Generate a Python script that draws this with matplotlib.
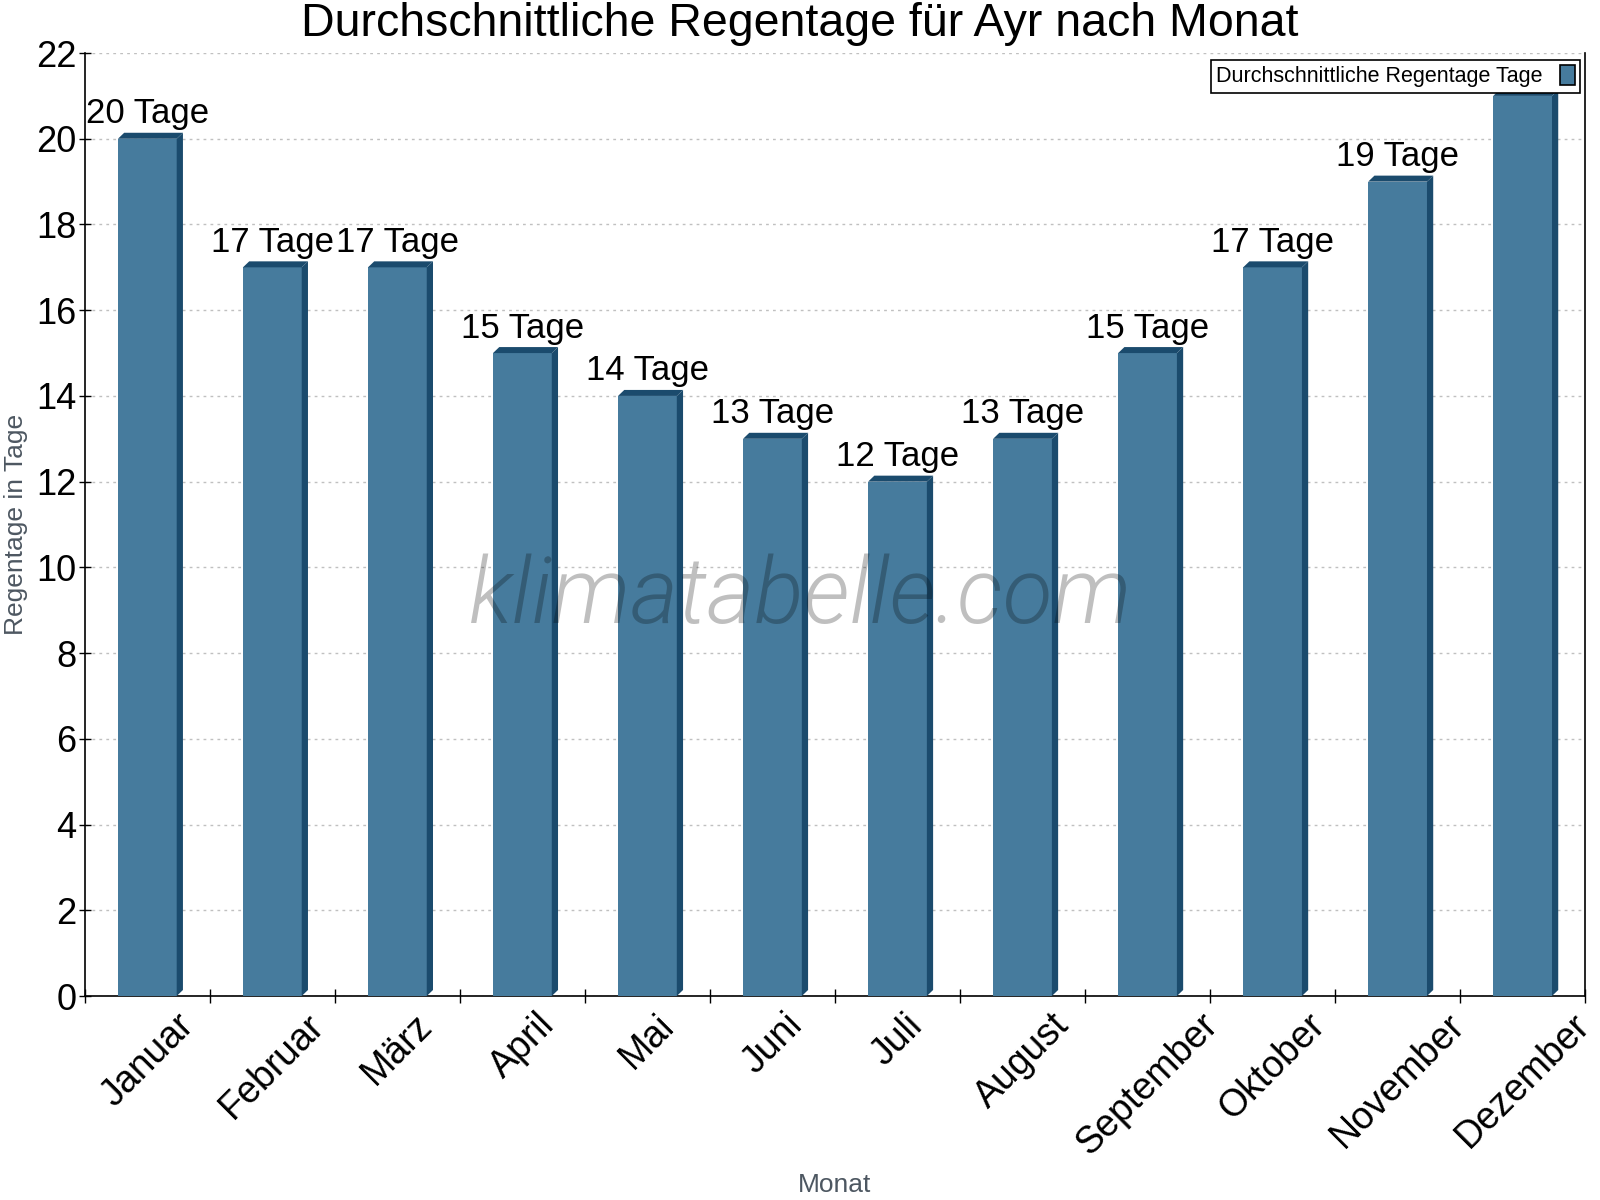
import matplotlib
matplotlib.use('Agg')
import matplotlib.pyplot as plt
from matplotlib.patches import Polygon, Patch

months = ['Januar', 'Februar', 'März', 'April', 'Mai', 'Juni', 'Juli',
          'August', 'September', 'Oktober', 'November', 'Dezember']
rain_days = [20, 17, 17, 15, 14, 13, 12, 13, 15, 17, 19, 21]
bar_labels = ['%d Tage' % v for v in rain_days]

front = '#467b9d'
dark = '#1b4b6d'

plt.rcParams['font.family'] = ['Liberation Sans', 'DejaVu Sans']

fig = plt.figure(figsize=(16, 12), dpi=100)
ax = fig.add_axes([0.053, 0.17, 0.9377, 0.7858])

x = list(range(len(months)))
width = 0.47
dx, dy = 0.05, 0.14

ax.bar(x, rain_days, width, color=front, zorder=3)
for i, v in enumerate(rain_days):
    x0 = i - width / 2
    x1 = i + width / 2
    side = Polygon([(x1, 0), (x1 + dx, dy), (x1 + dx, v + dy), (x1, v)],
                   closed=True, color=dark, zorder=3, lw=0)
    top = Polygon([(x0, v), (x0 + dx, v + dy), (x1 + dx, v + dy), (x1, v)],
                  closed=True, color=dark, zorder=3, lw=0)
    ax.add_patch(side)
    ax.add_patch(top)
    if i < len(months) - 1:
        ax.text(i, v + 0.2, bar_labels[i], ha='center', va='bottom',
                fontsize=25, color='black', zorder=5)

ax.set_xlim(-0.5, 11.5)
ax.set_ylim(0, 22)
ax.set_yticks(range(0, 23, 2))
ax.set_xticks(x)
ax.set_xticklabels(months, rotation=45, ha='center', va='top', fontsize=27)
ax.set_xticks([i - 0.5 for i in range(13)], minor=True)
ax.tick_params(axis='x', which='major', length=0, pad=8)
ax.tick_params(axis='x', which='minor', direction='inout', length=10, width=1)
ax.tick_params(axis='y', direction='inout', length=8, width=1, labelsize=26, pad=2)

ax.grid(axis='y', linestyle=(0, (2, 3)), color='#c0c0c0', lw=1, zorder=0)
ax.spines['top'].set_visible(False)
for s in ['left', 'right', 'bottom']:
    ax.spines[s].set_linewidth(1.2)

ax.set_ylabel('Regentage in Tage', fontsize=19, color='#4d5761', labelpad=6)
ax.set_xlabel('Monat', fontsize=19, color='#4d5761', labelpad=8)

fig.suptitle('Durchschnittliche Regentage für Ayr nach Monat', fontsize=33.5, y=0.998)

ax.text(0.477, 0.3955, 'klimatabelle.com', transform=ax.transAxes, ha='center',
        va='baseline', fontsize=66, style='italic', fontweight=300,
        family=['Roboto', 'Liberation Sans'], color='black', alpha=0.25,
        zorder=6)

handle = Patch(facecolor=front, edgecolor='black', lw=1.2)
leg = fig.legend([handle], ['Durchschnittliche Regentage Tage'], loc='upper right',
                 bbox_to_anchor=(0.9945, 0.959), fontsize=15.5, markerfirst=False,
                 fancybox=False, framealpha=1, edgecolor='black',
                 handlelength=0.7, handleheight=1.0, borderpad=0.25)
leg.get_frame().set_linewidth(1.2)

fig.savefig('out.png', dpi=100)
